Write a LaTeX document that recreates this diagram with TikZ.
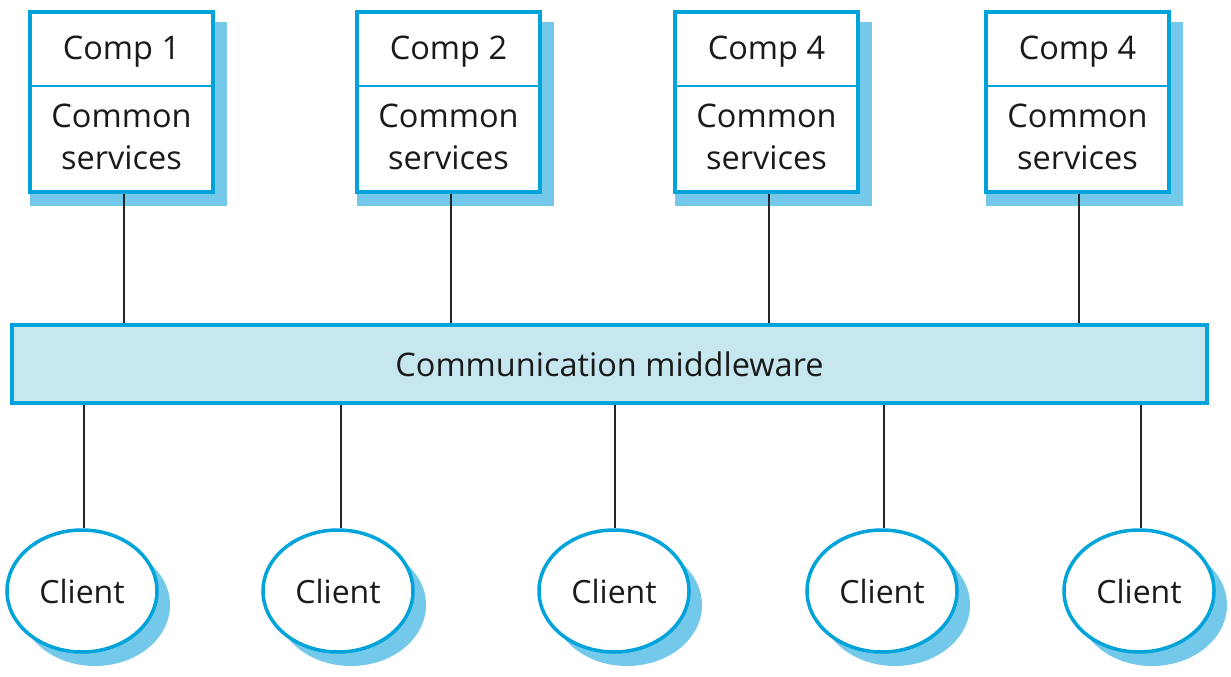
\documentclass[tikz,border=0pt]{standalone}
\usepackage{fontspec}
\setmainfont{Open Sans}
\usetikzlibrary{shapes.geometric}
\definecolor{bord}{HTML}{00A3DA}
\definecolor{shad}{HTML}{74C8EA}
\definecolor{mwfill}{HTML}{C6E7F0}
\definecolor{ink}{HTML}{1A1A1A}
\begin{document}
\begin{tikzpicture}[x=1pt,y=-1pt,
  comp/.style={draw=bord,line width=4pt,fill=white,minimum width=183pt,minimum height=180pt,inner sep=0pt},
  client/.style={ellipse,draw=bord,line width=3.5pt,fill=white,minimum width=150pt,minimum height=122pt,inner sep=0pt,text=ink,font=\fontsize{32}{38}\selectfont},
  txt/.style={font=\fontsize{32.5}{42}\selectfont,align=center,text=ink},
  conn/.style={line width=1.3pt,black!85}]
\useasboundingbox (0,0) rectangle (1231,677);
% component boxes
\foreach \n/\x/\lab in {c1/121.5/Comp 1,c2/448.5/Comp 2,c3/766.5/Comp 4,c4/1077.5/Comp 4}{
  \fill[shad] (\x-91.5,22) rectangle (\x+105.5,206);
  \node[comp] (\n) at (\x,102) {};
  \draw[bord,line width=2.5pt] (\x-91.5,86) -- (\x+91.5,86);
  \node[txt] (\n t) at (\x,52) {\lab};
  \node[txt] (\n s) at (\x,137) {Common\\services};
}
% middleware
\node[draw=bord,line width=4pt,fill=mwfill,minimum width=1195pt,minimum height=78pt,inner sep=0pt,
  text=ink,font=\fontsize{32.5}{38}\selectfont] (mw) at (609.5,364) {Communication middleware};
% clients
\foreach \n/\x in {k1/82,k2/338,k3/614,k4/882,k5/1139}{
  \fill[shad] (\x+13,605) ellipse [x radius=75pt,y radius=61pt];
  \node[client] (\n) at (\x,591) {Client};
}
% connectors
\foreach \n/\dx in {c1/2.5,c2/2.5,c3/2.5,c4/1.5}{
  \draw[conn] ([xshift=\dx pt]\n.south) -- ([xshift=\dx pt]\n.south |- mw.north);
}
\foreach \n/\dx in {k1/2,k2/3,k3/1,k4/2,k5/2}{
  \draw[conn] ([xshift=\dx pt]\n.north |- mw.south) -- ([xshift=\dx pt]\n.north);
}
\end{tikzpicture}
\end{document}
